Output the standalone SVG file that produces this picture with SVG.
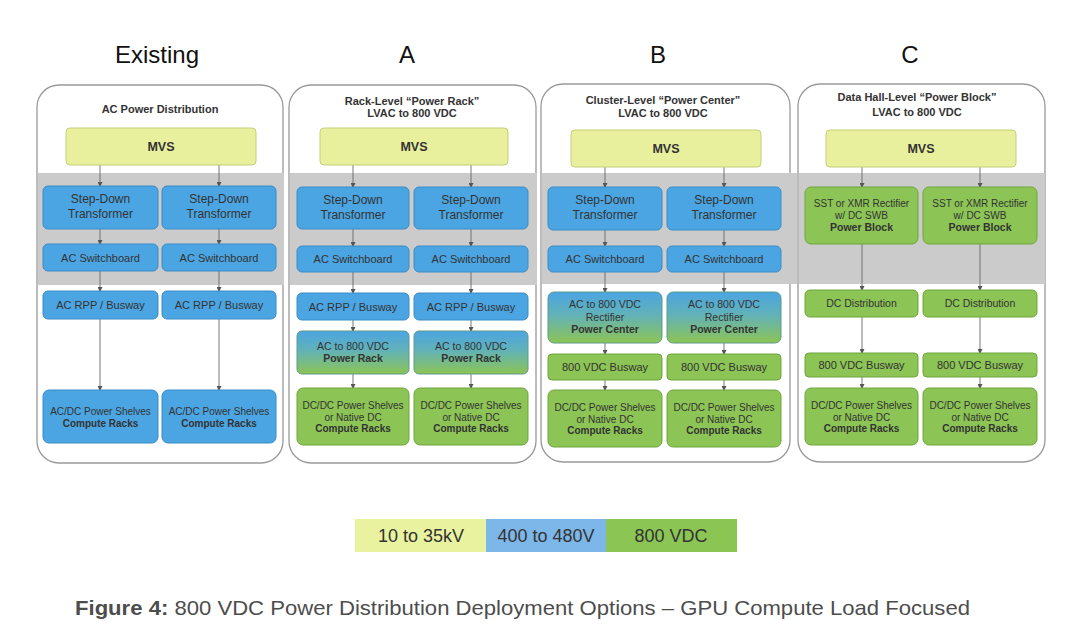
<svg xmlns="http://www.w3.org/2000/svg" width="1080" height="631" viewBox="0 0 1080 631">
<style>
text{font-family:"Liberation Sans",Arial,sans-serif;fill:#333;text-anchor:middle}
.hdr{font-size:24px;fill:#111}
.ptitle{font-size:11px;font-weight:bold;fill:#333}
.panel{fill:#fff;stroke:#999;stroke-width:1.3}
.band{fill:#cbcbcb}
.mvs{fill:#e8f09e;stroke:#c5cf78;stroke-width:1}
.blue{fill:#4ba5e2;stroke:#3b8cc6;stroke-width:1}
.green{fill:#8cc455;stroke:#6fa53c;stroke-width:1}
.grad{fill:url(#bg);stroke:#5f9a8a;stroke-width:1}
.t12{font-size:12px}
.t11{font-size:11px}
.t10{font-size:10px}
.b{font-weight:bold}
.mv{font-size:12.5px;font-weight:bold}
.conn line{stroke:#666;stroke-width:0.9;marker-end:url(#ah)}
.leg{font-size:18px;fill:#333}
</style>
<defs>
<linearGradient id="bg" x1="0" y1="0" x2="0" y2="1">
<stop offset="0" stop-color="#4ba5e2"/>
<stop offset="0.45" stop-color="#62b2b8"/>
<stop offset="1" stop-color="#8cc455"/>
</linearGradient>
<marker id="ah" markerWidth="5" markerHeight="5" refX="4" refY="2.5" orient="auto" markerUnits="userSpaceOnUse">
<path d="M0,0 L5,2.5 L0,5 Z" fill="#555"/>
</marker>
</defs>
<rect width="1080" height="631" fill="#fff"/>

<!-- headers -->
<text class="hdr" x="157" y="63">Existing</text>
<text class="hdr" x="407" y="63">A</text>
<text class="hdr" x="658" y="63">B</text>
<text class="hdr" x="910" y="63">C</text>

<!-- panels -->
<g id="panel-existing">
<rect class="panel" x="37" y="85" width="246" height="378" rx="22"/>
<rect class="band" x="38" y="173" width="246" height="112"/>
<text class="ptitle" x="160" y="113">AC Power Distribution</text>
</g>
<g id="panel-a">
<rect class="panel" x="289" y="85" width="247" height="378" rx="22"/>
<rect class="band" x="290" y="173" width="247" height="112"/>
<text class="ptitle" x="412" y="105">Rack-Level “Power Rack”</text>
<text class="ptitle" x="412" y="117">LVAC to 800 VDC</text>
</g>
<g id="panel-b">
<rect class="panel" x="541" y="84" width="249" height="378" rx="22"/>
<rect class="band" x="542" y="173" width="255" height="111"/>
<text class="ptitle" x="663" y="103.5">Cluster-Level “Power Center”</text>
<text class="ptitle" x="663" y="117">LVAC to 800 VDC</text>
</g>
<g id="panel-c">
<rect class="panel" x="798" y="84" width="247" height="378" rx="22"/>
<rect class="band" x="799" y="173" width="246" height="111"/>
<text class="ptitle" x="917" y="101">Data Hall-Level “Power Block”</text>
<text class="ptitle" x="917" y="115.5">LVAC to 800 VDC</text>
</g>

<!-- connectors -->
<g id="connectors" class="conn">
<line x1="100" y1="165" x2="100" y2="186"/><line x1="219" y1="165" x2="219" y2="186"/>
<line x1="100" y1="229" x2="100" y2="244"/><line x1="219" y1="229" x2="219" y2="244"/>
<line x1="100" y1="271" x2="100" y2="291"/><line x1="219" y1="271" x2="219" y2="291"/>
<line x1="100" y1="319" x2="100" y2="390"/><line x1="219" y1="319" x2="219" y2="390"/>

<line x1="353" y1="165" x2="353" y2="187"/><line x1="471" y1="165" x2="471" y2="187"/>
<line x1="353" y1="229" x2="353" y2="246"/><line x1="471" y1="229" x2="471" y2="246"/>
<line x1="353" y1="272" x2="353" y2="293"/><line x1="471" y1="272" x2="471" y2="293"/>
<line x1="353" y1="320" x2="353" y2="331"/><line x1="471" y1="320" x2="471" y2="331"/>
<line x1="353" y1="374" x2="353" y2="388"/><line x1="471" y1="374" x2="471" y2="388"/>

<line x1="605" y1="167" x2="605" y2="187"/><line x1="724" y1="167" x2="724" y2="187"/>
<line x1="605" y1="230" x2="605" y2="246"/><line x1="724" y1="230" x2="724" y2="246"/>
<line x1="605" y1="272" x2="605" y2="292"/><line x1="724" y1="272" x2="724" y2="292"/>
<line x1="605" y1="343" x2="605" y2="354"/><line x1="724" y1="343" x2="724" y2="354"/>
<line x1="605" y1="380" x2="605" y2="390"/><line x1="724" y1="380" x2="724" y2="390"/>

<line x1="862" y1="167" x2="862" y2="187"/><line x1="980" y1="167" x2="980" y2="187"/>
<line x1="862" y1="244" x2="862" y2="290"/><line x1="980" y1="244" x2="980" y2="290"/>
<line x1="862" y1="317" x2="862" y2="353"/><line x1="980" y1="317" x2="980" y2="353"/>
<line x1="862" y1="377" x2="862" y2="388"/><line x1="980" y1="377" x2="980" y2="388"/>
</g>

<!-- Existing nodes -->
<g id="ex-mvs"><rect class="mvs" x="66" y="128" width="190" height="37" rx="4"/><text class="mv" x="161" y="151">MVS</text></g>
<g id="ex-sd-l"><rect class="blue" x="43" y="186" width="115" height="43" rx="5"/><text class="t12" x="100.5" y="203">Step-Down</text><text class="t12" x="100.5" y="218">Transformer</text></g>
<g id="ex-sd-r"><rect class="blue" x="162" y="186" width="114" height="43" rx="5"/><text class="t12" x="219" y="203">Step-Down</text><text class="t12" x="219" y="218">Transformer</text></g>
<g id="ex-swb-l"><rect class="blue" x="43" y="244" width="115" height="27" rx="5"/><text class="t11" x="100.5" y="261.5">AC Switchboard</text></g>
<g id="ex-swb-r"><rect class="blue" x="162" y="244" width="114" height="27" rx="5"/><text class="t11" x="219" y="261.5">AC Switchboard</text></g>
<g id="ex-rpp-l"><rect class="blue" x="43" y="291" width="115" height="28" rx="5"/><text class="t11" x="100.5" y="309">AC RPP / Busway</text></g>
<g id="ex-rpp-r"><rect class="blue" x="162" y="291" width="114" height="28" rx="5"/><text class="t11" x="219" y="309">AC RPP / Busway</text></g>
<g id="ex-rack-l"><rect class="blue" x="43" y="390" width="115" height="53" rx="6"/><text class="t10" x="100.5" y="414.5">AC/DC Power Shelves</text><text class="t10 b" x="100.5" y="426.5">Compute Racks</text></g>
<g id="ex-rack-r"><rect class="blue" x="162" y="390" width="114" height="53" rx="6"/><text class="t10" x="219" y="414.5">AC/DC Power Shelves</text><text class="t10 b" x="219" y="426.5">Compute Racks</text></g>

<!-- A nodes -->
<g id="a-mvs"><rect class="mvs" x="320" y="128" width="188" height="37" rx="4"/><text class="mv" x="414" y="151">MVS</text></g>
<g id="a-sd-l"><rect class="blue" x="297" y="187" width="112" height="42" rx="5"/><text class="t12" x="353" y="204">Step-Down</text><text class="t12" x="353" y="219">Transformer</text></g>
<g id="a-sd-r"><rect class="blue" x="414" y="187" width="114" height="42" rx="5"/><text class="t12" x="471" y="204">Step-Down</text><text class="t12" x="471" y="219">Transformer</text></g>
<g id="a-swb-l"><rect class="blue" x="297" y="246" width="112" height="26" rx="5"/><text class="t11" x="353" y="263">AC Switchboard</text></g>
<g id="a-swb-r"><rect class="blue" x="414" y="246" width="114" height="26" rx="5"/><text class="t11" x="471" y="263">AC Switchboard</text></g>
<g id="a-rpp-l"><rect class="blue" x="297" y="293" width="112" height="27" rx="5"/><text class="t11" x="353" y="310.5">AC RPP / Busway</text></g>
<g id="a-rpp-r"><rect class="blue" x="414" y="293" width="114" height="27" rx="5"/><text class="t11" x="471" y="310.5">AC RPP / Busway</text></g>
<g id="a-pr-l"><rect class="grad" x="297" y="331" width="112" height="43" rx="5"/><text class="t10" style="font-size:10.5px" x="353" y="349.5">AC to 800 VDC</text><text class="t10 b" style="font-size:10.5px" x="353" y="362">Power Rack</text></g>
<g id="a-pr-r"><rect class="grad" x="414" y="331" width="114" height="43" rx="5"/><text class="t10" style="font-size:10.5px" x="471" y="349.5">AC to 800 VDC</text><text class="t10 b" style="font-size:10.5px" x="471" y="362">Power Rack</text></g>
<g id="a-rack-l"><rect class="green" x="297" y="388" width="112" height="57" rx="6"/><text class="t10" x="353" y="409">DC/DC Power Shelves</text><text class="t10" x="353" y="420.5">or Native DC</text><text class="t10 b" x="353" y="432">Compute Racks</text></g>
<g id="a-rack-r"><rect class="green" x="414" y="388" width="114" height="57" rx="6"/><text class="t10" x="471" y="409">DC/DC Power Shelves</text><text class="t10" x="471" y="420.5">or Native DC</text><text class="t10 b" x="471" y="432">Compute Racks</text></g>

<!-- B nodes -->
<g id="b-mvs"><rect class="mvs" x="571" y="130" width="190" height="37" rx="4"/><text class="mv" x="666" y="153">MVS</text></g>
<g id="b-sd-l"><rect class="blue" x="548" y="187" width="114" height="43" rx="5"/><text class="t12" x="605" y="204">Step-Down</text><text class="t12" x="605" y="219">Transformer</text></g>
<g id="b-sd-r"><rect class="blue" x="667" y="187" width="114" height="43" rx="5"/><text class="t12" x="724" y="204">Step-Down</text><text class="t12" x="724" y="219">Transformer</text></g>
<g id="b-swb-l"><rect class="blue" x="548" y="246" width="114" height="26" rx="5"/><text class="t11" x="605" y="263">AC Switchboard</text></g>
<g id="b-swb-r"><rect class="blue" x="667" y="246" width="114" height="26" rx="5"/><text class="t11" x="724" y="263">AC Switchboard</text></g>
<g id="b-pc-l"><rect class="grad" x="548" y="292" width="114" height="51" rx="6"/><text class="t10" style="font-size:10.5px" x="605" y="308">AC to 800 VDC</text><text class="t10" style="font-size:10.5px" x="605" y="321">Rectifier</text><text class="t10 b" style="font-size:10.5px" x="605" y="333">Power Center</text></g>
<g id="b-pc-r"><rect class="grad" x="667" y="292" width="114" height="51" rx="6"/><text class="t10" style="font-size:10.5px" x="724" y="308">AC to 800 VDC</text><text class="t10" style="font-size:10.5px" x="724" y="321">Rectifier</text><text class="t10 b" style="font-size:10.5px" x="724" y="333">Power Center</text></g>
<g id="b-bus-l"><rect class="green" x="548" y="354" width="114" height="26" rx="4"/><text class="t11" x="605" y="371">800 VDC Busway</text></g>
<g id="b-bus-r"><rect class="green" x="667" y="354" width="114" height="26" rx="4"/><text class="t11" x="724" y="371">800 VDC Busway</text></g>
<g id="b-rack-l"><rect class="green" x="548" y="390" width="114" height="57" rx="6"/><text class="t10" x="605" y="410.5">DC/DC Power Shelves</text><text class="t10" x="605" y="422.5">or Native DC</text><text class="t10 b" x="605" y="434">Compute Racks</text></g>
<g id="b-rack-r"><rect class="green" x="667" y="390" width="114" height="57" rx="6"/><text class="t10" x="724" y="410.5">DC/DC Power Shelves</text><text class="t10" x="724" y="422.5">or Native DC</text><text class="t10 b" x="724" y="434">Compute Racks</text></g>

<!-- C nodes -->
<g id="c-mvs"><rect class="mvs" x="826" y="130" width="190" height="37" rx="4"/><text class="mv" x="921" y="153">MVS</text></g>
<g id="c-pb-l"><rect class="green" x="805" y="187" width="113" height="57" rx="6"/><text class="t10" x="861.5" y="207">SST or XMR Rectifier</text><text class="t10" x="861.5" y="218.5">w/ DC SWB</text><text class="t10 b" style="font-size:10.5px" x="861.5" y="230.5">Power Block</text></g>
<g id="c-pb-r"><rect class="green" x="923" y="187" width="114" height="57" rx="6"/><text class="t10" x="980" y="207">SST or XMR Rectifier</text><text class="t10" x="980" y="218.5">w/ DC SWB</text><text class="t10 b" style="font-size:10.5px" x="980" y="230.5">Power Block</text></g>
<g id="c-dist-l"><rect class="green" x="805" y="290" width="113" height="27" rx="5"/><text class="t11" style="font-size:10.5px" x="861.5" y="307">DC Distribution</text></g>
<g id="c-dist-r"><rect class="green" x="923" y="290" width="114" height="27" rx="5"/><text class="t11" style="font-size:10.5px" x="980" y="307">DC Distribution</text></g>
<g id="c-bus-l"><rect class="green" x="805" y="353" width="113" height="24" rx="4"/><text class="t11" x="861.5" y="369">800 VDC Busway</text></g>
<g id="c-bus-r"><rect class="green" x="923" y="353" width="114" height="24" rx="4"/><text class="t11" x="980" y="369">800 VDC Busway</text></g>
<g id="c-rack-l"><rect class="green" x="805" y="388" width="113" height="57" rx="6"/><text class="t10" x="861.5" y="409">DC/DC Power Shelves</text><text class="t10" x="861.5" y="420.5">or Native DC</text><text class="t10 b" x="861.5" y="432">Compute Racks</text></g>
<g id="c-rack-r"><rect class="green" x="923" y="388" width="114" height="57" rx="6"/><text class="t10" x="980" y="409">DC/DC Power Shelves</text><text class="t10" x="980" y="420.5">or Native DC</text><text class="t10 b" x="980" y="432">Compute Racks</text></g>

<!-- legend -->
<g id="legend">
<rect x="355" y="519" width="131" height="33" fill="#e9f29e"/>
<rect x="486" y="519" width="120" height="33" fill="#7db6e8"/>
<rect x="606" y="519" width="131" height="33" fill="#8bc553"/>
<text class="leg" x="421" y="542">10 to 35kV</text>
<text class="leg" x="546" y="542">400 to 480V</text>
<text class="leg" x="671" y="542">800 VDC</text>
</g>

<!-- caption -->
<text x="75" y="615" style="text-anchor:start;font-size:21px;fill:#4d4d4d" textLength="895" lengthAdjust="spacingAndGlyphs"><tspan font-weight="bold">Figure 4:</tspan> 800 VDC Power Distribution Deployment Options – GPU Compute Load Focused</text>
</svg>
